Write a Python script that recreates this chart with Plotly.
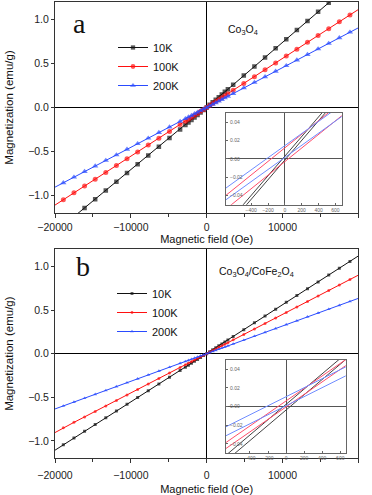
import plotly.graph_objects as go

# applied field (Oe), shared by every M-H curve
field_oe = [-20000, -18900, -17500, -16100, -14700, -13300, -11900, -10500, -9100, -7700,
            -6300, -4900, -3500, -2800, -2400, -2000, -1600, -1200, -800, -400, 0,
            400, 800, 1200, 1600, 2000, 2400, 2800, 3500, 4900, 6300, 7700, 9100,
            10500, 11900, 13300, 14700, 16100, 17500, 18900, 20000]

# panel a : Co3O4  (emu/g)
a_10k = [-1.420, -1.342, -1.243, -1.143, -1.044, -0.944, -0.845, -0.746, -0.646, -0.547,
         -0.447, -0.348, -0.249, -0.199, -0.170, -0.142, -0.114, -0.085, -0.057, -0.028, 0.000,
         0.030, 0.059, 0.089, 0.118, 0.148, 0.178, 0.207, 0.259, 0.363, 0.466, 0.570, 0.673,
         0.777, 0.881, 0.984, 1.088, 1.191, 1.295, 1.399, 1.480]
a_100k = [-1.110, -1.049, -0.971, -0.894, -0.816, -0.738, -0.660, -0.583, -0.505, -0.427,
          -0.350, -0.272, -0.194, -0.155, -0.133, -0.111, -0.089, -0.067, -0.044, -0.022, 0.000,
          0.022, 0.045, 0.067, 0.089, 0.111, 0.134, 0.156, 0.195, 0.273, 0.351, 0.429, 0.507,
          0.585, 0.663, 0.741, 0.819, 0.897, 0.975, 1.053, 1.114]
a_200k = [-0.906, -0.856, -0.793, -0.729, -0.666, -0.602, -0.539, -0.476, -0.412, -0.349,
          -0.285, -0.222, -0.159, -0.127, -0.109, -0.091, -0.072, -0.054, -0.036, -0.018, 0.000,
          0.018, 0.036, 0.054, 0.072, 0.091, 0.109, 0.127, 0.159, 0.222, 0.285, 0.349, 0.412,
          0.476, 0.539, 0.602, 0.666, 0.729, 0.793, 0.856, 0.906]

# panel b : Co3O4/CoFe2O4  (emu/g)
b_10k = [-1.107, -1.045, -0.968, -0.890, -0.813, -0.735, -0.658, -0.581, -0.503, -0.426,
         -0.348, -0.271, -0.194, -0.155, -0.133, -0.111, -0.088, -0.066, -0.044, -0.022, 0.000,
         0.022, 0.045, 0.067, 0.090, 0.112, 0.134, 0.157, 0.196, 0.274, 0.353, 0.431, 0.510,
         0.588, 0.666, 0.745, 0.823, 0.902, 0.980, 1.058, 1.120]
b_100k = [-0.905, -0.851, -0.788, -0.725, -0.662, -0.599, -0.536, -0.473, -0.410, -0.347,
          -0.284, -0.221, -0.158, -0.126, -0.108, -0.090, -0.072, -0.054, -0.036, -0.018, 0.000,
          0.018, 0.036, 0.054, 0.072, 0.090, 0.108, 0.126, 0.158, 0.221, 0.284, 0.347, 0.410,
          0.473, 0.536, 0.599, 0.662, 0.725, 0.788, 0.851, 0.900]
b_200k = [-0.634, -0.599, -0.555, -0.510, -0.466, -0.422, -0.377, -0.333, -0.288, -0.244,
          -0.200, -0.155, -0.111, -0.089, -0.076, -0.063, -0.051, -0.038, -0.025, -0.013, 0.000,
          0.013, 0.025, 0.038, 0.051, 0.063, 0.076, 0.089, 0.111, 0.155, 0.200, 0.244, 0.288,
          0.333, 0.377, 0.422, 0.466, 0.510, 0.555, 0.599, 0.634]

# insets: low-field part of the loops, two branches per temperature
inset_field = [-720, 720]
a_inset = {
    "10K": [[-0.0740, 0.0800], [-0.0783, 0.0758]],
    "100K": [[-0.0412, 0.0653], [-0.0562, 0.0503]],
    "200K": [[-0.0331, 0.0620], [-0.0459, 0.0491]],
}
b_inset = {
    "10K": [[-0.0566, 0.0615], [-0.0626, 0.0554]],
    "100K": [[-0.0421, 0.0544], [-0.0485, 0.0480]],
    "200K": [[-0.0242, 0.0455], [-0.0338, 0.0359]],
}

temps = ["10K", "100K", "200K"]
colors = {"10K": "#111111", "100K": "#ff1010", "200K": "#2a4bff"}
inset_colors = {"10K": "#444444", "100K": "#ff4d6a", "200K": "#6f8cff"}
symbols = {"10K": "square", "100K": "circle", "200K": "triangle-up"}

W, H = 372, 495
FONT = "Arial, Liberation Sans, sans-serif"
SERIF = "Liberation Serif, Times New Roman, serif"


def px_x(a, b):
    return [a / W, b / W]


def px_y(top, bottom):
    return [1 - bottom / H, 1 - top / H]


def add_panel(fig, series, xa, ya, legend, msizes):
    for t, m in zip(temps, series):
        # no marker on the end points at +-20000 (line runs to the frame)
        sizes = [0 if abs(h) >= 20000 else msizes[t] for h in field_oe]
        fig.add_trace(go.Scatter(
            x=field_oe, y=m, mode="lines+markers", name=t,
            line=dict(color=colors[t], width=1),
            marker=dict(symbol=symbols[t], size=sizes, color=colors[t], line=dict(width=0)),
            xaxis=xa, yaxis=ya, legend=legend))


def add_inset(fig, branches, xa, ya):
    for t in temps:
        for m in branches[t]:
            fig.add_trace(go.Scatter(
                x=inset_field, y=m, mode="lines", showlegend=False,
                line=dict(color=inset_colors[t], width=1),
                xaxis=xa, yaxis=ya))


def label(text, x, y, font, anchor="center"):
    return dict(text=text, x=x / W, y=1 - y / H, xref="paper", yref="paper",
                xanchor=anchor, yanchor="middle", showarrow=False, font=font)


fig = go.Figure()
add_panel(fig, [a_10k, a_100k, a_200k], "x", "y", "legend",
          {"10K": 4.5, "100K": 5, "200K": 5.5})
add_inset(fig, a_inset, "x2", "y2")
add_panel(fig, [b_10k, b_100k, b_200k], "x3", "y3", "legend2",
          {"10K": 3, "100K": 3, "200K": 3.5})
add_inset(fig, b_inset, "x4", "y4")

main_x = dict(range=[-20000, 20000], dtick=10000, tickformat="d", automargin=False,
              showline=True, mirror=True, linecolor="#333", linewidth=1,
              ticks="outside", ticklen=4, tickcolor="#333",
              minor=dict(dtick=5000, ticks="outside", ticklen=3, tickcolor="#333"),
              zeroline=True, zerolinecolor="#000", zerolinewidth=1, showgrid=False,
              tickfont=dict(family=FONT, size=10.5, color="#222"),
              title=dict(text="Magnetic field (Oe)", font=dict(family=FONT, size=11, color="#111"), standoff=2))
main_y = dict(range=[-1.2, 1.2], dtick=0.5, tickformat=".1f", automargin=False,
              showline=True, mirror=True, linecolor="#333", linewidth=1,
              ticks="outside", ticklen=3, tickcolor="#333",
              zeroline=True, zerolinecolor="#000", zerolinewidth=1, showgrid=False,
              tickfont=dict(family=FONT, size=10.5, color="#222"),
              title=dict(text="Magnetization (emu/g)", font=dict(family=FONT, size=11.5, color="#111"), standoff=12))
inset_x = dict(dtick=200, tickformat="d", automargin=False, showline=True, mirror=True,
               linecolor="#666", linewidth=1,
               ticks="inside", ticklen=2, tickcolor="#666", showgrid=False,
               zeroline=True, zerolinecolor="#555", zerolinewidth=1,
               tickfont=dict(family=FONT, size=5, color="#666"))
inset_y = dict(range=[-0.05, 0.05], dtick=0.02, tickformat=".2f", automargin=False,
               showline=True, mirror=True,
               linecolor="#666", linewidth=1, ticks="inside", ticklen=2, tickcolor="#666",
               ticklabelposition="inside", showgrid=False,
               zeroline=True, zerolinecolor="#555", zerolinewidth=1,
               tickfont=dict(family=FONT, size=5, color="#666"))

bottom_x = dict(main_x, ticklabelstandoff=3)
bottom_x["title"] = dict(main_x["title"], standoff=5)

fig.update_layout(
    width=W, height=H, margin=dict(l=0, r=0, t=0, b=0),
    paper_bgcolor="white", plot_bgcolor="white",
    xaxis=dict(main_x, domain=px_x(55, 358.3), anchor="y"),
    yaxis=dict(main_y, domain=px_y(2, 213), anchor="x"),
    xaxis2=dict(inset_x, domain=px_x(226, 341.7), anchor="y2", range=[-700, 675]),
    yaxis2=dict(inset_y, domain=px_y(113, 204.7), anchor="x2"),
    xaxis3=dict(bottom_x, domain=px_x(55, 358.3), anchor="y3"),
    yaxis3=dict(main_y, domain=px_y(249, 458.3), anchor="x3"),
    xaxis4=dict(inset_x, domain=px_x(226, 345.7), anchor="y4", range=[-665, 660]),
    yaxis4=dict(inset_y, domain=px_y(360, 453.3), anchor="x4"),
    legend=dict(x=113 / W, y=1 - 33 / H, xanchor="left", yanchor="top",
                bgcolor="rgba(0,0,0,0)", font=dict(family=FONT, size=11, color="#111")),
    legend2=dict(x=112 / W, y=1 - 279 / H, xanchor="left", yanchor="top",
                 bgcolor="rgba(0,0,0,0)", font=dict(family=FONT, size=11, color="#111")),
    annotations=[
        label("a", 79, 24, dict(family=SERIF, size=28, color="#111")),
        label("b", 83, 266, dict(family=SERIF, size=28, color="#111")),
        label("Co<sub>3</sub>O<sub>4</sub>", 226, 30, dict(family=FONT, size=10.5, color="#111"), "left"),
        label("Co<sub>3</sub>O<sub>4</sub>/CoFe<sub>2</sub>O<sub>4</sub>", 217, 272,
              dict(family=FONT, size=10.5, color="#111"), "left"),
    ],
)

# drop the browser's default 8px page margin so the figure sits at the window corner
fig.write_html("out.html", config={"displayModeBar": False},
               post_script="document.body.style.margin='0';")
